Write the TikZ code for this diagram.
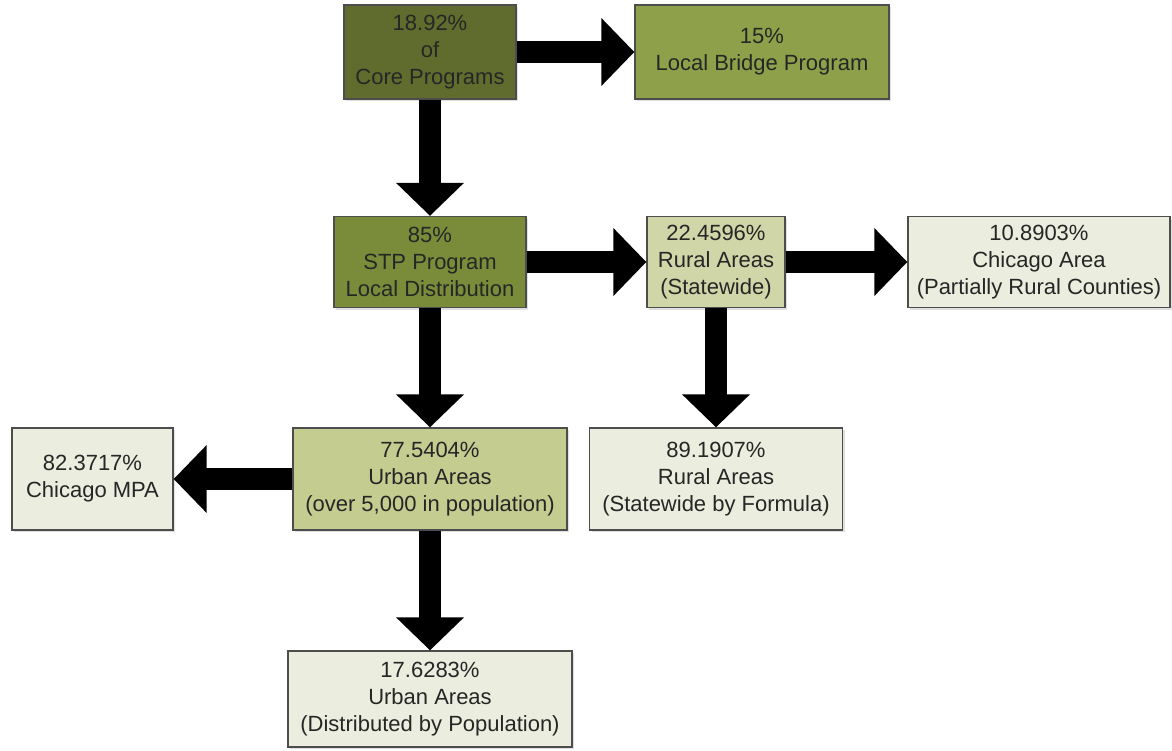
\documentclass[tikz,border=0pt]{standalone}
\usepackage{fontspec}
\setmainfont{Liberation Sans}
\usetikzlibrary{arrows.meta,shadows}
\definecolor{txt}{HTML}{262626}
\definecolor{edge}{HTML}{4D4D4D}
\definecolor{cdark}{HTML}{5F6C2D}
\definecolor{cdarkT}{HTML}{6A7833}
\definecolor{cbridge}{HTML}{8EA14A}
\definecolor{cbridgeT}{HTML}{97AA52}
\definecolor{cstp}{HTML}{7A8C3A}
\definecolor{cstpT}{HTML}{849641}
\definecolor{crural}{HTML}{D0D6A8}
\definecolor{curban}{HTML}{C4CC8F}
\definecolor{clight}{HTML}{EBEDDE}
\tikzset{
  box/.style={draw=edge, line width=1.3pt, rectangle, inner sep=0pt, align=center,
    text=txt, font=\fontsize{22}{27}\selectfont,
    drop shadow={shadow xshift=2pt, shadow yshift=-2pt, opacity=0.25}},
  blockarrow/.style={draw=black, line width=22pt,
    -{Triangle[length=33pt 0, width=66pt 0]}},
}
\begin{document}
\begin{tikzpicture}[x=1pt,y=-1pt]
\useasboundingbox (0,0) rectangle (1172,750);
\node[box, fill=cdark, minimum width=172pt, minimum height=94pt] (core) at (430,52) {18.92\%\\of\\Core Programs};
\node[box, fill=cbridge, minimum width=254pt, minimum height=94pt] (bridge) at (762,52) {15\%\\Local Bridge Program};
\node[box, fill=cstp, minimum width=192pt, minimum height=91pt] (stp) at (430,262) {85\%\\STP Program\\Local Distribution};
\node[box, fill=crural, minimum width=138pt, minimum height=91pt] (rural) at (716,262) {22.4596\%\\Rural Areas\\(Statewide)};
\node[box, fill=clight, minimum width=262pt, minimum height=91pt] (chi) at (1039,262) {10.8903\%\\Chicago Area\\(Partially Rural Counties)};
\node[box, fill=curban, minimum width=274pt, minimum height=102pt] (urban) at (430,479) {77.5404\%\\Urban Areas\\(over 5,000 in population)};
\node[box, fill=clight, minimum width=161pt, minimum height=102pt] (mpa) at (92.5,479) {82.3717\%\\Chicago MPA};
\node[box, fill=clight, minimum width=253pt, minimum height=102pt] (formula) at (716,479) {89.1907\%\\Rural Areas\\(Statewide by Formula)};
\node[box, fill=clight, minimum width=284pt, minimum height=96pt] (dist) at (430,699) {17.6283\%\\Urban Areas\\(Distributed by Population)};
\draw[blockarrow] (core.east) -- (bridge.west);
\draw[blockarrow] (core.south) -- (stp.north);
\draw[blockarrow] (stp.east) -- (rural.west);
\draw[blockarrow] (stp.south) -- (urban.north);
\draw[blockarrow] (rural.east) -- (chi.west);
\draw[blockarrow] (rural.south) -- (formula.north);
\draw[blockarrow] (urban.west) -- (mpa.east);
\draw[blockarrow] (urban.south) -- (dist.north);
\end{tikzpicture}
\end{document}
